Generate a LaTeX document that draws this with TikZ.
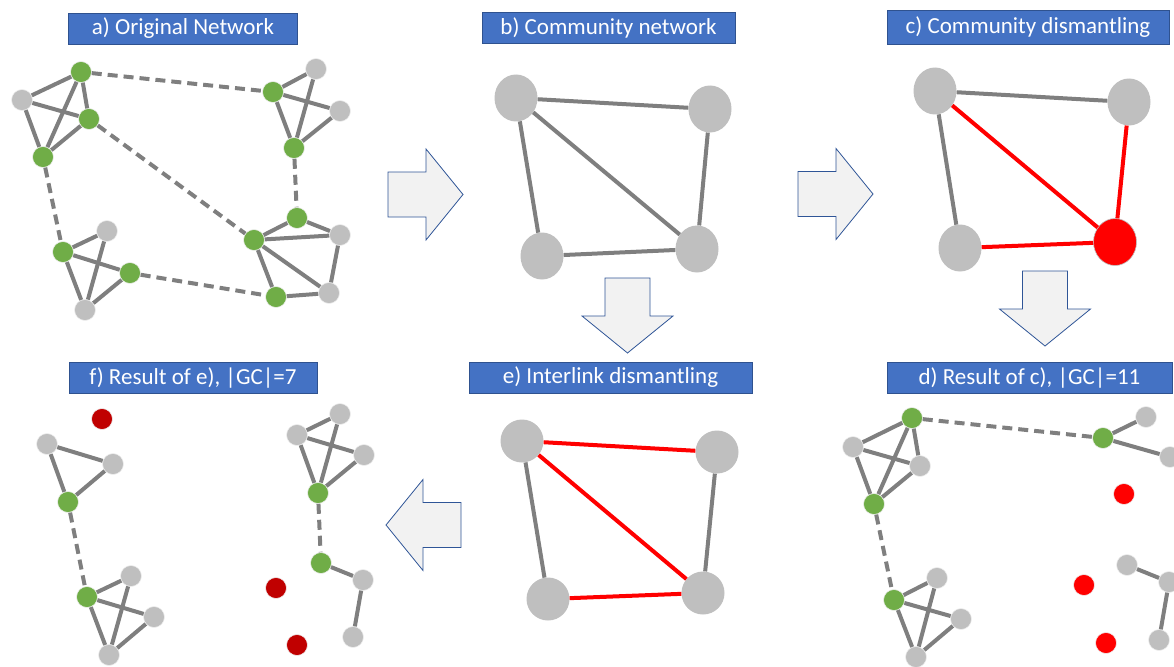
\documentclass[tikz,border=0pt]{standalone}
\usepackage{fontspec}
\setmainfont{Carlito}
\usetikzlibrary{shapes.geometric}
\definecolor{GrayNd}{HTML}{BFBFBF}
\definecolor{GreenNd}{HTML}{70AD47}
\definecolor{EdgeClr}{HTML}{7F7F7F}
\definecolor{CutClr}{HTML}{FF0000}
\definecolor{DarkRed}{HTML}{C00000}
\definecolor{TitleClr}{HTML}{4472C4}
\definecolor{TitleLine}{HTML}{2F528F}
\definecolor{ArrowFill}{HTML}{F2F2F2}
\definecolor{ArrowLine}{HTML}{2F5597}

\begin{document}
\begin{tikzpicture}[x=1pt,y=-1pt,
  nd/.style={circle,inner sep=0,minimum size=21pt,draw=white!75!GrayNd,line width=.6pt},
  gn/.style={nd,fill=GrayNd},
  grn/.style={nd,fill=GreenNd},
  rn/.style={nd,fill=CutClr},
  drn/.style={nd,fill=DarkRed},
  comm/.style={ellipse,inner sep=0,minimum width=43pt,minimum height=47pt,fill=GrayNd},
  link/.style={draw=EdgeClr,line width=4pt},
  inter/.style={link,dash pattern=on 10pt off 6pt},
  cutlink/.style={draw=CutClr,line width=4pt},
  title/.style={fill=TitleClr,draw=TitleLine,line width=.8pt,text=white,
    font=\fontsize{23}{26}\selectfont,minimum height=31pt,inner sep=0},
  bigarr/.pic={\draw[fill=ArrowFill,draw=ArrowLine,line width=.8pt]
    (0,-22.5) -- (38,-22.5) -- (38,-45.5) -- (75,0) -- (38,45.5) -- (38,22.5) -- (0,22.5) -- cycle;}]
\useasboundingbox (0,0) rectangle (1174,666);

% titles
\node[title,minimum width=229pt] (ta) at (183,28.5) {a) Original Network};
\node[title,minimum width=253pt] (tb) at (608.5,28) {b) Community network};
\node[title,minimum width=282pt,minimum height=34pt] (tc) at (1028,27) {c) Community dismantling};
\node[title,minimum width=285pt] (td) at (1029.5,377.5) {d) Result of c), |GC|=11};
\node[title,minimum width=283pt] (te) at (610.5,377.5) {e) Interlink dismantling};
\node[title,minimum width=248pt] (tf) at (193,377.5) {f) Result of e), |GC|=7};

% a) original network
\node[grn] (a1) at (81,72) {};
\node[gn] (a2) at (22,100) {};
\node[grn] (a3) at (89,119) {};
\node[grn] (a4) at (43,157) {};
\node[gn] (a5) at (316,69) {};
\node[grn] (a6) at (273,92) {};
\node[gn] (a7) at (340,111) {};
\node[grn] (a8) at (294,148) {};
\node[grn] (a9) at (297,218) {};
\node[gn] (a10) at (340,235) {};
\node[grn] (a11) at (254,240) {};
\node[gn] (a12) at (329,293) {};
\node[grn] (a13) at (276,297) {};
\node[gn] (a14) at (107,231) {};
\node[grn] (a15) at (63,252) {};
\node[grn] (a16) at (130,273) {};
\node[gn] (a17) at (85,310) {};
\foreach \u/\v in {2/1,2/3,2/4,1/4,1/3,3/4,6/5,6/7,6/8,5/8,7/8,11/9,9/10,11/10,11/12,11/13,10/12,13/12,
  15/14,15/16,15/17,14/17,16/17}
  \draw[link] (a\u) -- (a\v);
\foreach \u/\v in {1/6,3/11,4/15,8/9,16/13}
  \draw[inter] (a\u) -- (a\v);

% b) community network
\node[comm] (b1) at (516,98) {};
\node[comm] (b2) at (710,109) {};
\node[comm] (b3) at (542,256) {};
\node[comm] (b4) at (697,249) {};
\foreach \u/\v in {1/2,1/3,1/4,2/4,3/4}
  \draw[link] (b\u) -- (b\v);

% c) community dismantling
\node[comm] (c1) at (935,91) {};
\node[comm] (c2) at (1129,102) {};
\node[comm] (c3) at (960,248) {};
\node[comm,fill=CutClr,draw=GrayNd,line width=.6pt] (c4) at (1115,242) {};
\draw[link] (c1) -- (c2);
\draw[link] (c1) -- (c3);
\foreach \u in {1,2,3}
  \draw[cutlink] (c\u) -- (c4);

% d) result of c)
\node[grn] (d1) at (912,418) {};
\node[gn] (d2) at (853,447) {};
\node[gn] (d3) at (920,466) {};
\node[grn] (d4) at (874,504) {};
\node[grn] (d5) at (1103,438) {};
\node[gn] (d6) at (1146,417) {};
\node[gn] (d7) at (1170,457) {};
\node[rn] (d8) at (1124,494) {};
\node[grn] (d9) at (894,600) {};
\node[gn] (d10) at (937,578) {};
\node[gn] (d11) at (961,619) {};
\node[gn] (d12) at (916,657) {};
\node[rn] (d13) at (1084,585) {};
\node[rn] (d14) at (1106,643) {};
\node[gn] (d15) at (1127,565) {};
\node[gn] (d16) at (1169,582) {};
\node[gn] (d17) at (1159,640) {};
\foreach \u/\v in {1/2,2/3,2/4,1/4,1/3,3/4,5/6,5/7,9/10,9/11,9/12,10/12,11/12,15/16,16/17}
  \draw[link] (d\u) -- (d\v);
\draw[inter] (d1) -- (d5);
\draw[inter] (d4) -- (d9);

% e) interlink dismantling
\node[comm,minimum height=43pt] (e1) at (522,441) {};
\node[comm,minimum height=43pt] (e2) at (717,452) {};
\node[comm,minimum height=43pt] (e3) at (548,599) {};
\node[comm,minimum height=43pt] (e4) at (703,593) {};
\draw[link] (e1) -- (e3);
\draw[link] (e2) -- (e4);
\foreach \u/\v in {1/2,1/4,3/4}
  \draw[cutlink] (e\u) -- (e\v);

% f) result of e)
\node[drn] (f1) at (102,419) {};
\node[gn] (f2) at (47,444) {};
\node[gn] (f3) at (113,464) {};
\node[grn] (f4) at (68,502) {};
\node[grn] (f5) at (87,597) {};
\node[gn] (f6) at (131,576) {};
\node[gn] (f7) at (154,617) {};
\node[gn] (f8) at (109,655) {};
\node[gn] (f9) at (340,414) {};
\node[gn] (f10) at (297,435) {};
\node[gn] (f11) at (364,455) {};
\node[grn] (f12) at (318,493) {};
\node[grn] (f13) at (321,563) {};
\node[gn] (f14) at (363,580) {};
\node[gn] (f15) at (353,637) {};
\node[drn] (f16) at (276,588) {};
\node[drn] (f17) at (297,645) {};
\foreach \u/\v in {2/3,2/4,3/4,5/6,5/7,5/8,6/8,7/8,10/9,10/11,10/12,9/12,11/12,13/14,14/15}
  \draw[link] (f\u) -- (f\v);
\draw[inter] (f4) -- (f5);
\draw[inter] (f12) -- (f13);

% block arrows
\pic at (388,194.5) {bigarr};
\pic at (798,194) {bigarr};
\pic[rotate=-90] at (627.5,278) {bigarr};
\pic[rotate=-90] at (1045,271) {bigarr};
\pic[rotate=180] at (461,525) {bigarr};
\end{tikzpicture}
\end{document}
